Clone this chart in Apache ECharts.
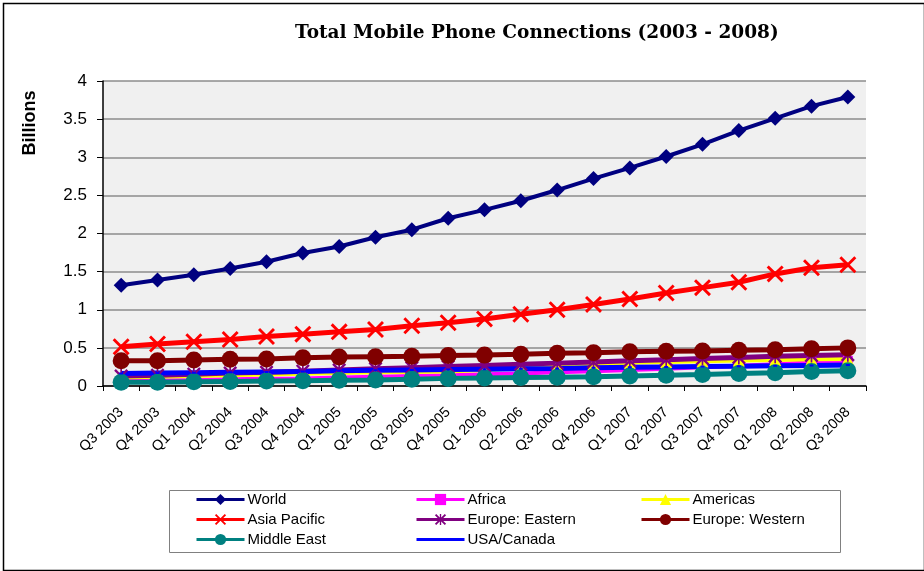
<!DOCTYPE html>
<html>
<head>
<meta charset="utf-8">
<script src="https://cdn.jsdelivr.net/npm/echarts@6/dist/echarts.min.js"></script>
<style>
  html, body { margin: 0; padding: 0; background: #ffffff; }
  #chart { width: 924px; height: 571px; }
</style>
</head>
<body>
<div id="chart"></div>
<script>
// Quarterly mobile connections by region, in billions
const quarters = [
  'Q3 2003', 'Q4 2003', 'Q1 2004', 'Q2 2004', 'Q3 2004', 'Q4 2004', 'Q1 2005',
  'Q2 2005', 'Q3 2005', 'Q4 2005', 'Q1 2006', 'Q2 2006', 'Q3 2006', 'Q4 2006',
  'Q1 2007', 'Q2 2007', 'Q3 2007', 'Q4 2007', 'Q1 2008', 'Q2 2008', 'Q3 2008'
];
const world = [1.32, 1.39, 1.46, 1.54, 1.63, 1.745, 1.83, 1.95, 2.05, 2.20, 2.31,
  2.43, 2.57, 2.72, 2.86, 3.01, 3.17, 3.35, 3.51, 3.67, 3.79];
const africa = [0.07, 0.075, 0.08, 0.09, 0.095, 0.10, 0.11, 0.12, 0.13, 0.14, 0.155,
  0.165, 0.18, 0.195, 0.21, 0.225, 0.245, 0.265, 0.285, 0.31, 0.33];
const americas = [0.11, 0.12, 0.13, 0.14, 0.15, 0.16, 0.17, 0.18, 0.185, 0.19, 0.21,
  0.235, 0.265, 0.29, 0.305, 0.315, 0.325, 0.335, 0.34, 0.35, 0.355];
const asiaPacific = [0.515, 0.55, 0.58, 0.61, 0.65, 0.68, 0.71, 0.74, 0.79, 0.83, 0.88,
  0.94, 1.00, 1.07, 1.14, 1.22, 1.29, 1.36, 1.47, 1.55, 1.59];
const europeEastern = [0.13, 0.14, 0.155, 0.17, 0.18, 0.195, 0.21, 0.225, 0.24, 0.255, 0.27,
  0.285, 0.30, 0.315, 0.33, 0.345, 0.36, 0.375, 0.39, 0.40, 0.41];
const europeWestern = [0.33, 0.33, 0.34, 0.35, 0.355, 0.37, 0.38, 0.385, 0.39, 0.40, 0.405,
  0.415, 0.43, 0.435, 0.45, 0.455, 0.46, 0.47, 0.475, 0.49, 0.50];
const middleEast = [0.05, 0.05, 0.055, 0.06, 0.065, 0.07, 0.075, 0.08, 0.09, 0.10, 0.105,
  0.11, 0.115, 0.12, 0.13, 0.14, 0.15, 0.165, 0.175, 0.19, 0.20];
const usaCanada = [0.165, 0.17, 0.175, 0.18, 0.185, 0.19, 0.20, 0.205, 0.21, 0.215, 0.22,
  0.225, 0.23, 0.24, 0.245, 0.25, 0.255, 0.26, 0.265, 0.27, 0.275];
const yTicks = { min: 0, max: 4, interval: 0.5 };

// Marker shapes that ECharts lacks: a cross, an asterisk and a short dash
const crossPath = 'path://M0,1.2 L1.2,0 L5,3.8 L8.8,0 L10,1.2 L6.2,5 L10,8.8 L8.8,10 L5,6.2 L1.2,10 L0,8.8 L3.8,5 Z';
const asteriskPath = 'path://M0,1.2 L1.2,0 L5,3.8 L8.8,0 L10,1.2 L6.2,5 L10,8.8 L8.8,10 L5,6.2 L1.2,10 L0,8.8 L3.8,5 Z M4.4,0 L5.6,0 L5.6,10 L4.4,10 Z';
// dash centred in an otherwise empty 10x10 box so it stays small when scaled
const dashPath = 'path://M0,0 L0.01,0 L0,0.01 Z M9.99,10 L10,10 L10,9.99 Z M3,4 L7,4 L7,6 L3,6 Z';

const font = '"Liberation Sans", Arial, sans-serif';

function line(name, data, color, symbol, symbolSize, width) {
  return {
    name: name,
    type: 'line',
    data: data,
    symbol: symbol,
    symbolSize: symbolSize,
    showSymbol: true,
    lineStyle: { color: color, width: width },
    itemStyle: { color: color, opacity: 1 },
    emphasis: { disabled: true },
    animation: false
  };
}

const series = [
  line('World', world, '#000080', 'diamond', 15, 4),
  line('Africa', africa, '#ff00ff', 'rect', 10, 4),
  line('Americas', americas, '#ffff00', 'triangle', 12, 4),
  line('Asia Pacific', asiaPacific, '#ff0000', crossPath, 17, 5),
  line('Europe: Eastern', europeEastern, '#800080', asteriskPath, 14, 5),
  line('Europe: Western', europeWestern, '#800000', 'circle', 17, 5),
  line('Middle East', middleEast, '#008080', 'circle', 17, 5),
  line('USA/Canada', usaCanada, '#0000ff', dashPath, 10, 5)
];

function legendColumn(left, names) {
  return {
    orient: 'vertical',
    left: left,
    top: 492,
    itemWidth: 48,
    itemHeight: 14,
    itemGap: 5,
    padding: 0,
    selectedMode: false,
    lineStyle: { width: 3 },
    textStyle: { fontFamily: font, fontSize: 15, color: '#000', padding: [0, 0, 0, -2] },
    data: names
  };
}

const chart = echarts.init(document.getElementById('chart'), null, { renderer: 'canvas' });
chart.setOption({
  animation: false,
  backgroundColor: '#ffffff',
  title: {
    text: 'Total Mobile Phone Connections (2003 - 2008)',
    left: 290,
    top: 19,
    textStyle: { fontFamily: '"DejaVu Serif", "Liberation Serif", serif', fontWeight: 'bold', fontSize: 18.5, color: '#000' }
  },
  grid: { left: 103, right: 58, top: 81, bottom: 185, show: true, backgroundColor: '#f0f0f0', borderWidth: 0 },
  legend: [
    legendColumn(195, ['World', 'Asia Pacific', 'Middle East']),
    legendColumn(415, ['Africa', 'Europe: Eastern', 'USA/Canada']),
    legendColumn(640, ['Americas', 'Europe: Western'])
  ],
  xAxis: {
    type: 'category',
    data: quarters,
    boundaryGap: true,
    axisLine: { lineStyle: { color: '#000', width: 1.5 } },
    axisTick: { show: true, length: 5, alignWithLabel: false, lineStyle: { color: '#000' } },
    axisLabel: { rotate: 45, interval: 0, fontFamily: font, fontSize: 14.5, color: '#000', margin: 24 },
    splitLine: { show: false }
  },
  yAxis: {
    type: 'value',
    min: yTicks.min,
    max: yTicks.max,
    interval: yTicks.interval,
    axisLine: { show: true, lineStyle: { color: '#000', width: 1.5 } },
    axisTick: { show: true, length: 6, lineStyle: { color: '#000' } },
    axisLabel: { fontFamily: font, fontSize: 17, color: '#000', margin: 16 },
    splitLine: { show: true, lineStyle: { color: '#8c8c8c', width: 1.5 } }
  },
  graphic: [
    {
      type: 'rect',
      left: 1, top: 1,
      shape: { width: 921, height: 567 },
      style: { fill: 'none', stroke: '#000', lineWidth: 1.5 },
      silent: true
    },
    {
      type: 'rect',
      left: 167, top: 488,
      shape: { width: 671, height: 62 },
      style: { fill: 'none', stroke: '#808080', lineWidth: 1 },
      silent: true
    },
    {
      type: 'text',
      x: 30, y: 123,
      rotation: Math.PI / 2,
      style: {
        text: 'Billions',
        fontFamily: font, fontWeight: 'bold', fontSize: 18, fill: '#000',
        align: 'center', verticalAlign: 'middle'
      },
      silent: true
    }
  ],
  series: series
});
</script>
</body>
</html>
